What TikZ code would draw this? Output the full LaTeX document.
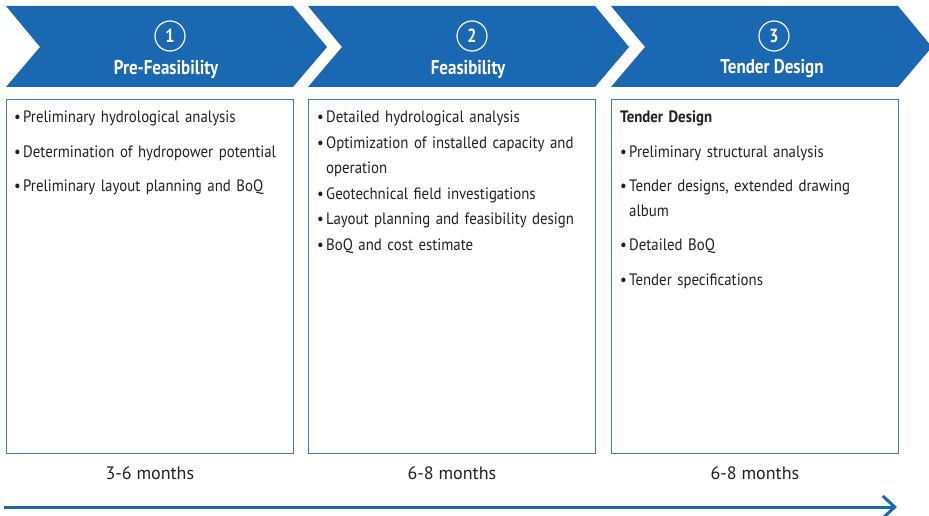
\documentclass[tikz,border=0pt]{standalone}
\usepackage{fontspec}
\setmainfont{PT Sans}[FakeStretch=0.9]
\newfontfamily\titlefont{PT Sans}[FakeStretch=0.85]
\newfontfamily\monthfont{PT Sans}
\usetikzlibrary{arrows.meta,positioning}
\definecolor{phaseblue}{RGB}{26,103,178}
\definecolor{boxblue}{RGB}{58,124,192}
\definecolor{textgray}{RGB}{35,31,32}
\newcommand{\bul}[1]{\hangindent=9pt\hangafter=1\makebox[9pt][l]{\textbullet}#1\par}

\begin{document}
\begin{tikzpicture}[x=1pt,y=-1pt,
	chevron/.style={fill=phaseblue},
	numstyle/.style={circle,draw=white,line width=1.2pt,text=white,minimum size=30pt,inner sep=0pt,font=\fontsize{19}{19}\titlefont\bfseries},
	titlestyle/.style={text=white,inner sep=0pt,font=\fontsize{20}{20}\titlefont\bfseries},
	phasebox/.style={draw=boxblue,line width=0.8pt,minimum width=287pt,minimum height=354pt,inner sep=0pt,anchor=north west},
	itemlist/.style={text=textgray,text width=273pt,align=left,inner sep=0pt,anchor=north west,
		font=\fontsize{16.5}{24.5}\selectfont,
		execute at begin node={\setlength{\parindent}{0pt}\setlength{\parskip}{#1}\hyphenpenalty=10000\exhyphenpenalty=10000}},
	monthlabel/.style={text=textgray,inner sep=0pt,font=\fontsize{18}{18}\monthfont},
	timeline/.style={draw=phaseblue,line width=3pt,-{Straight Barb[length=12pt,width=22pt,line width=3pt]}}]
\useasboundingbox (0,0) rectangle (929,516);
% phase chevrons
\fill[chevron] (6,6) -- (293,6) -- (327,47) -- (293,87) -- (6,87) -- (40,47) -- cycle;
\fill[chevron] (308,6) -- (595,6) -- (629,47) -- (595,87) -- (308,87) -- (342,47) -- cycle;
\fill[chevron] (611,6) -- (898,6) -- (932,47) -- (898,87) -- (611,87) -- (645,47) -- cycle;
\node[numstyle] (n1) at (170,36) {1};
\node[numstyle] (n2) at (472,36) {2};
\node[numstyle] (n3) at (774,36) {3};
\node[titlestyle] (t1) at (166,69) {Pre-Feasibility};
\node[titlestyle] (t2) at (468,69) {Feasibility};
\node[titlestyle] (t3) at (772,69) {Tender Design};
% boxes
\node[phasebox] (box1) at (6,99) {};
\node[phasebox] (box2) at (308,99) {};
\node[phasebox] (box3) at (611,99) {};
\node[itemlist=10pt] (list1) at (14,111) {\bul{Preliminary hydrological analysis}
	\bul{Determination of hydropower potential}
	\bul{Preliminary layout planning and BoQ}};
\node[itemlist=0pt,font=\fontsize{16.5}{25.5}\selectfont] (list2) at (317,111) {\bul{Detailed hydrological analysis}
	\bul{Optimization of installed capacity and operation}
	\bul{Geotechnical field investigations}
	\bul{Layout planning and feasibility design}
	\bul{BoQ and cost estimate}};
\node[itemlist=10pt] (list3) at (620,111) {\textbf{Tender Design}\par
	\bul{Preliminary structural analysis}
	\bul{Tender designs, extended drawing album}
	\bul{Detailed BoQ}
	\bul{Tender specifications}};
% durations
\node[monthlabel,below=13pt of box1.south] (m1) {3-6 months};
\node[monthlabel,below=13pt of box2.south] (m2) {6-8 months};
\node[monthlabel,below=13pt of box3.south] (m3) {6-8 months};
\coordinate (tstart) at (4,507);
\coordinate (tend) at (897,507);
\draw[timeline] (tstart) -- (tend);
\end{tikzpicture}
\end{document}
